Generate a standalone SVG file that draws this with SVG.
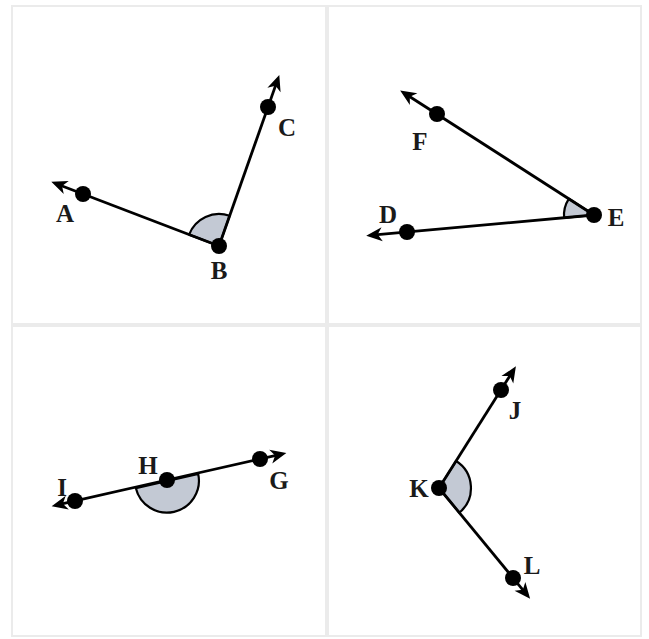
<svg xmlns="http://www.w3.org/2000/svg" width="649" height="639" viewBox="0 0 649 639">
<style>
.panel{fill:#fff;stroke:#ebebeb;stroke-width:2}
.ray{stroke:#000;stroke-width:2.8;fill:none;marker-end:url(#arr)}
.dot{fill:#000}
.ang{fill:#c3c9d4;stroke:#000;stroke-width:2.2;stroke-linejoin:round}
.lbl{font-family:"Liberation Serif","Times New Roman",serif;font-size:25px;font-weight:bold;fill:#1a1a1a;text-anchor:middle}
</style>
<defs>
<marker id="arr" markerUnits="userSpaceOnUse" markerWidth="18" markerHeight="14" refX="10" refY="7" orient="auto" overflow="visible">
<path d="M0,0 L16,7 L0,14 L4.5,7 Z" fill="#000"/>
</marker>
</defs>
<rect width="649" height="639" fill="#fff"/>
<g id="panels">
<rect class="panel" x="12" y="6" width="314" height="318"/>
<rect class="panel" x="328" y="6" width="313" height="318"/>
<rect class="panel" x="12" y="326" width="314" height="310"/>
<rect class="panel" x="328" y="326" width="313" height="310"/>
</g>
<g id="angles">
<path class="ang" d="M219,246 L189.1,234.6 A32,32 0 0,1 229.6,215.8 Z"/>
<path class="ang" d="M594,215 L564.1,217.9 A30,30 0 0,1 568.8,198.8 Z"/>
<path class="ang" d="M198.2,473.9 A32,32 0 0,1 135.8,488.1 Z"/>
<path class="ang" d="M439,488 L456.1,461 A32,32 0 0,1 459.3,512.7 Z"/>
</g>
<g id="connectors">
<line class="ray" x1="219" y1="246" x2="56.9" y2="184"/>
<line class="ray" x1="219" y1="246" x2="277.3" y2="80.6"/>
<line class="ray" x1="594" y1="215" x2="405.2" y2="93.7"/>
<line class="ray" x1="594" y1="215" x2="372.2" y2="235.1"/>
<line class="ray" x1="167" y1="480" x2="57.5" y2="504.9"/>
<line class="ray" x1="167" y1="480" x2="280.5" y2="454.4"/>
<line class="ray" x1="439" y1="488" x2="512.7" y2="371.4"/>
<line class="ray" x1="439" y1="488" x2="526.3" y2="594.1"/>
</g>
<g id="A"><circle class="dot" cx="83" cy="194" r="8"/><text class="lbl" x="65" y="222">A</text></g>
<g id="B"><circle class="dot" cx="219" cy="246" r="8"/><text class="lbl" x="219" y="279">B</text></g>
<g id="C"><circle class="dot" cx="268" cy="107" r="8"/><text class="lbl" x="287" y="136">C</text></g>
<g id="F"><circle class="dot" cx="437" cy="114" r="8"/><text class="lbl" x="420" y="150">F</text></g>
<g id="D"><circle class="dot" cx="407" cy="232" r="8"/><text class="lbl" x="388" y="223">D</text></g>
<g id="E"><circle class="dot" cx="594" cy="215" r="8"/><text class="lbl" x="616" y="226">E</text></g>
<g id="I"><circle class="dot" cx="75" cy="501" r="8"/><text class="lbl" x="62" y="496">I</text></g>
<g id="H"><circle class="dot" cx="167" cy="480" r="8"/><text class="lbl" x="148" y="474">H</text></g>
<g id="G"><circle class="dot" cx="260" cy="459" r="8"/><text class="lbl" x="279" y="489">G</text></g>
<g id="J"><circle class="dot" cx="501" cy="390" r="8"/><text class="lbl" x="515" y="419">J</text></g>
<g id="K"><circle class="dot" cx="439" cy="488" r="8"/><text class="lbl" x="419" y="497">K</text></g>
<g id="L"><circle class="dot" cx="513" cy="578" r="8"/><text class="lbl" x="532" y="574">L</text></g>
</svg>
